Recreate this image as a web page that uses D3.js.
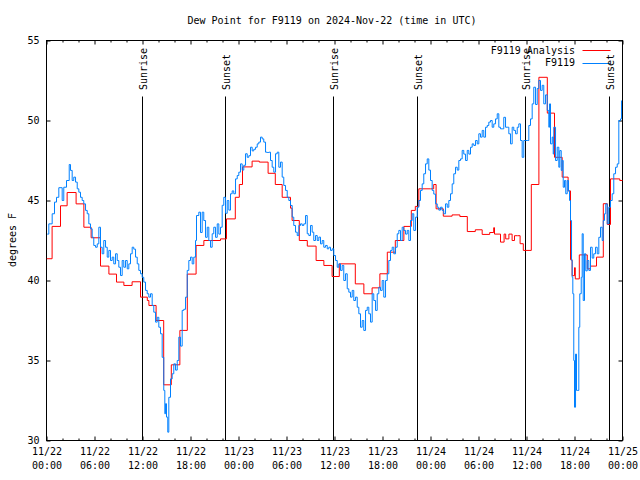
<!DOCTYPE html>
<html><head><meta charset="utf-8">
<script src="https://cdn.jsdelivr.net/npm/d3@7"></script>
<style>
html,body{margin:0;padding:0;background:#fff;}
text{font-family:"DejaVu Sans Mono","Liberation Mono",monospace;font-size:10px;fill:#000;}
</style></head>
<body>
<svg id="chart" width="640" height="480"></svg>
<script>
// ---- data (hours after 2024-11-22 00:00 UTC, dew point °F) ----
const obsHours = [0.09,0.29,0.71,1.0,1.25,1.54,1.96,2.16,2.5,2.84,3.0,3.21,3.41,3.63,3.84,4.04,4.25,4.46,4.66,4.88,5.09,5.29,5.5,5.71,5.91,6.13,6.34,6.54,6.75,6.96,7.16,7.38,7.59,7.79,8.0,8.21,8.41,8.63,8.84,9.04,9.25,9.46,9.66,9.88,10.09,10.29,10.5,10.71,10.91,11.13,11.34,11.54,11.75,11.96,12.16,12.38,12.59,12.79,13.0,13.21,13.41,13.63,13.84,14.04,14.25,14.46,14.66,14.79,14.88,15.0,15.16,15.29,15.5,15.71,15.91,16.13,16.34,16.54,16.75,16.96,17.16,17.38,17.59,17.79,18.0,18.21,18.41,18.63,18.75,19.04,19.25,19.46,19.66,19.88,20.09,20.29,20.5,20.71,20.91,21.13,21.34,21.54,21.75,21.96,22.16,22.38,22.59,22.79,23.0,23.21,23.41,23.63,23.84,24.04,24.25,24.46,24.66,24.88,25.09,25.29,25.5,25.71,25.91,26.13,26.34,26.54,26.75,26.96,27.16,27.38,27.59,27.79,28.0,28.21,28.41,28.63,28.84,29.04,29.25,29.46,29.66,29.88,30.09,30.29,30.5,30.71,30.91,31.13,31.34,31.54,31.75,31.96,32.16,32.38,32.59,32.79,33.0,33.21,33.41,33.63,33.84,34.04,34.25,34.46,34.66,34.88,35.09,35.29,35.5,35.71,35.91,36.13,36.34,36.54,36.75,36.96,37.16,37.38,37.59,37.79,38.0,38.21,38.41,38.63,38.84,39.04,39.25,39.46,39.66,39.88,40.09,40.29,40.5,40.71,40.91,41.13,41.34,41.54,41.75,41.96,42.16,42.38,42.59,42.79,43.0,43.21,43.41,43.63,43.84,44.04,44.25,44.46,44.66,44.88,45.09,45.29,45.5,45.71,45.91,46.13,46.34,46.54,46.75,46.96,47.16,47.38,47.59,47.79,48.0,48.21,48.41,48.63,48.84,49.04,49.25,49.46,49.66,49.88,50.09,50.29,50.5,50.71,50.91,51.13,51.34,51.54,51.75,51.96,52.16,52.38,52.59,52.79,53.0,53.21,53.41,53.63,53.84,54.04,54.25,54.46,54.66,54.88,55.09,55.29,55.5,55.71,55.91,56.13,56.34,56.54,56.75,56.96,57.16,57.38,57.59,57.79,58.0,58.21,58.41,58.63,58.84,59.04,59.25,59.46,59.66,59.88,60.09,60.29,60.5,60.71,60.91,61.13,61.34,61.54,61.75,61.96,62.16,62.38,62.59,62.79,62.88,63.0,63.21,63.34,63.41,63.63,63.84,64.04,64.16,64.34,64.46,64.59,64.75,64.91,65.09,65.25,65.38,65.5,65.63,65.71,65.79,65.91,66.0,66.13,66.25,66.41,66.54,66.66,66.84,66.96,67.09,67.25,67.41,67.59,67.79,68.0,68.21,68.41,68.63,68.84,69.04,69.25,69.46,69.59,69.75,69.91,70.09,70.29,70.5,70.71,70.91,71.13,71.34,71.54,71.75,71.88];
const obsDewpt = [42.9,43.54,44.17,44.9,45.2,45.8,45.0,45.83,46.25,47.25,46.88,46.25,46.46,46.15,45.73,45.52,45.2,45.0,44.79,44.38,44.17,43.54,43.23,42.7,42.19,42.08,42.29,43.33,42.08,41.67,42.5,42.08,41.46,41.88,41.25,41.46,41.04,41.67,41.25,40.83,40.31,41.25,40.83,41.25,40.73,41.04,41.67,42.08,41.96,41.46,41.04,40.63,40.42,40.2,39.9,39.38,39.17,38.96,39.17,38.44,38.02,37.4,37.7,37.08,36.67,35.2,33.13,31.67,32.3,31.46,30.52,32.7,33.85,34.17,34.79,34.4,35.0,36.46,35.9,38.13,38.2,38.96,40.63,41.25,41.46,41.04,41.46,42.5,44.06,44.27,43.0,44.27,43.75,42.7,43.33,42.5,42.08,42.92,43.33,42.7,43.54,42.9,43.33,44.7,45.2,44.2,45.0,44.4,45.42,45.6,45.42,46.35,46.56,46.77,47.29,46.9,47.2,47.92,47.7,47.8,48.33,48.1,48.2,48.33,48.54,48.65,48.96,48.85,48.65,48.02,48.0,48.02,47.5,47.08,46.77,47.92,48.02,47.08,47.4,46.46,45.94,45.63,45.2,45.0,44.69,43.96,43.44,43.02,42.81,43.44,43.54,43.44,43.54,44.06,42.92,42.81,43.44,43.02,42.5,42.81,42.5,42.71,42.29,42.5,42.08,42.19,41.98,42.08,41.88,41.98,41.56,41.25,40.83,41.04,40.63,40.94,40.0,40.42,39.48,39.27,38.96,39.38,38.75,38.96,38.33,37.92,37.08,37.5,36.88,38.13,38.33,37.92,37.4,39.17,38.75,38.13,39.17,39.58,39.38,40.0,38.96,40.0,40.42,41.25,41.88,42.08,41.67,42.08,42.92,43.13,42.5,43.33,43.13,42.9,43.13,42.5,43.75,44.17,43.13,43.96,44.58,45.0,45.63,46.04,46.67,47.29,47.6,46.9,46.25,45.63,45.4,44.79,44.58,44.4,44.58,44.38,44.17,44.79,44.58,45.0,45.42,46.04,46.67,47.08,46.9,47.5,47.6,48.13,47.9,47.5,48.13,47.9,48.33,48.54,48.44,48.75,48.54,49.17,48.96,49.38,48.96,49.58,49.69,49.9,50.0,49.58,49.79,50.1,50.42,49.58,49.48,49.48,50.2,49.58,49.58,49.17,48.54,49.58,49.38,49.17,49.58,49.79,48.75,47.7,48.75,48.75,48.75,49.69,50.1,51.04,52.08,51.0,52.0,52.5,51.88,52.2,51.04,51.6,50.63,49.58,51.04,48.54,48.96,47.9,49.58,47.5,48.33,47.08,48.12,46.88,47.5,45.83,46.25,45.42,46.25,45.6,45.0,43.75,41.25,40.2,39.17,35.0,32.08,35.4,33.13,33.13,37.08,39.17,40.2,42.92,38.75,41.67,40.6,41.25,40.63,42.08,41.4,41.67,42.08,41.67,42.7,43.33,42.5,43.75,44.17,44.79,43.54,44.58,45.0,45.42,46.67,47.08,47.29,50.0,50.1,51.25];

const anaHours = [0,0.7,1.75,2.58,3.7,4.67,5.58,6.75,7.8,8.75,9.67,10.7,11.75,12.6,12.8,13.7,14.65,15.6,16.67,17.6,18.7,19.67,21.75,22.5,23.6,24.1,24.5,25.7,26.6,27.7,28.6,29.46,30.5,30.7,31.6,32.6,33.7,34.67,35.7,36.6,38.6,39.67,40.7,41.67,42.6,43.6,44.67,45.6,46.1,46.54,48.0,48.4,48.7,49.6,50.7,51.67,52.6,53.6,54.46,55.4,55.9,56.0,56.75,57.2,57.4,57.8,58.2,58.5,58.9,59.2,59.6,60.6,61.55,62.6,63.5,64.46,65.2,65.5,65.7,66.0,66.1,66.6,67.6,68.0,68.75,69.6,70.1,70.5,71.66,72];
const anaDewpt = [41.36,43.38,44.67,45.5,44.79,43.33,42.67,40.9,40.4,39.9,39.69,39.92,38.96,38.75,38.44,37.5,33.48,34.73,36.88,40.4,42.19,42.5,42.6,43.85,45.2,46.0,47.1,47.46,47.4,46.7,46.0,45.2,44.52,43.75,42.5,42.15,41.25,40.94,40.25,41.04,39.79,39.17,39.54,40.42,41.77,42.5,43.38,44.38,44.63,45.73,45.73,46.0,44.48,44.02,44.1,44.0,43.06,43.17,42.88,43.0,43.3,42.9,42.4,42.9,42.6,42.9,42.5,42.8,42.8,42.3,41.88,46.0,52.7,50.46,47.7,46.46,45.6,41.3,40.3,40.8,40.1,41.6,40.73,40.9,41.46,44.8,43.5,46.35,46.25,46.25];

const sunEventHours = [12.04,22.4,35.88,46.38,59.88,70.38];
const sunEventNames = ["Sunrise","Sunset","Sunrise","Sunset","Sunrise","Sunset"];
const yTicks = [30,35,40,45,50,55];
const seriesNames = ["F9119 Analysis","F9119"];
const seriesColors = ["#ff0000","#0080ff"];
const titleText = "Dew Point for F9119 on 2024-Nov-22 (time in UTC)";
const yLabel = "degrees F";

// ---- drawing ----
const t0 = Date.UTC(2024,10,22,0,0,0);
const toDate = h => new Date(t0 + h*3600e3);
const L=46,R=622,T=40,B=440;
const svg = d3.select("#chart");
const x = d3.scaleUtc().domain([toDate(0),toDate(72)]).range([L,R]);
const y = d3.scaleLinear().domain([30,55]).range([B,T]);

svg.append("text").attr("x",332).attr("y",20).attr("text-anchor","middle")
  .attr("dominant-baseline","central").text(titleText);

svg.append("text").attr("transform","translate(12,240) rotate(-90)")
  .attr("text-anchor","middle").attr("dominant-baseline","central").text(yLabel);

const g = svg.append("g").attr("transform","translate(0.5,0.5)");

svg.append("defs").append("clipPath").attr("id","clip")
  .append("rect").attr("x",L).attr("y",T).attr("width",R-L+1).attr("height",B-T+1);

const majorT = d3.range(0,73,6).map(toDate);
const minorT = d3.range(0,73,2).filter(h=>h%6!==0).map(toDate);

// bottom axis
const bx = g.append("g").attr("transform",`translate(0,${B})`)
  .call(d3.axisBottom(x).tickValues(majorT).tickSize(-4).tickFormat(()=>""));
bx.selectAll(".tick").each(function(d){
  const t = d3.select(this).select("text");
  t.attr("y",null).attr("dy",null);
  t.append("tspan").attr("x",0).attr("y",14).text(d3.utcFormat("%m/%d")(d));
  t.append("tspan").attr("x",0).attr("y",28).text(d3.utcFormat("%H:%M")(d));
});
g.append("g").attr("transform",`translate(0,${B})`)
  .call(d3.axisBottom(x).tickValues(minorT).tickSize(-2).tickFormat(()=>""));
// top axis
g.append("g").attr("transform",`translate(0,${T})`)
  .call(d3.axisTop(x).tickValues(majorT).tickSize(-4).tickFormat(()=>""));
g.append("g").attr("transform",`translate(0,${T})`)
  .call(d3.axisTop(x).tickValues(minorT).tickSize(-2).tickFormat(()=>""));
// left / right
g.append("g").attr("transform",`translate(${L},0)`)
  .call(d3.axisLeft(y).tickValues(yTicks).tickSize(-4).tickPadding(7).tickFormat(d3.format("d")));
g.append("g").attr("transform",`translate(${R},0)`)
  .call(d3.axisRight(y).tickValues(yTicks).tickSize(-4).tickFormat(()=>""));

g.selectAll(".domain").remove();
g.selectAll(".tick line").attr("stroke","#000");
g.selectAll("text").attr("font-family",null).attr("font-size",null).attr("fill","#000");

// frame
g.append("rect").attr("x",L).attr("y",T).attr("width",R-L).attr("height",B-T)
  .attr("fill","none").attr("stroke","#000");

// sunrise/sunset lines
sunEventHours.forEach((h,i)=>{
  const xp = Math.round(x(toDate(h)));
  g.append("line").attr("x1",xp).attr("x2",xp).attr("y1",96).attr("y2",B).attr("stroke","#000");
  svg.append("text").attr("transform",`translate(${xp+1.5},90) rotate(-90)`)
    .attr("text-anchor","start").attr("dominant-baseline","central")
    .text(sunEventNames[i]).attr("text-anchor","start");
});

// series
const line = d3.line().curve(d3.curveStepAfter).x(d=>x(toDate(d[0]))).y(d=>y(d[1]));
const ana = anaHours.map((h,i)=>[h,anaDewpt[i]]);
const obs = obsHours.map((h,i)=>[h,obsDewpt[i]]);
const plot = g.append("g").attr("clip-path","url(#clip)");
plot.append("path").datum(ana).attr("d",line).attr("fill","none").attr("stroke",seriesColors[0]).attr("stroke-width",1);
plot.append("path").datum(obs).attr("d",line).attr("fill","none").attr("stroke",seriesColors[1]).attr("stroke-width",1);

// legend
seriesNames.forEach((n,i)=>{
  const yy = 50 + i*12.5;
  svg.append("text").attr("x",575).attr("y",yy).attr("text-anchor","end")
    .attr("dominant-baseline","central").text(n);
  g.append("line").attr("x1",582).attr("x2",610).attr("y1",Math.round(yy)).attr("y2",Math.round(yy))
    .attr("stroke",seriesColors[i]);
});
</script>
</body></html>
